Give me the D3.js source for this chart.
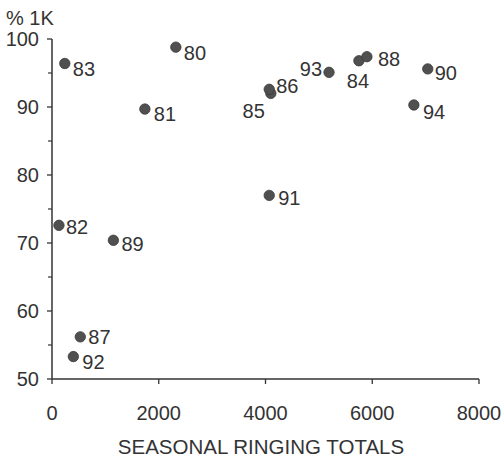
<!DOCTYPE html>
<html>
<head>
<meta charset="utf-8">
<script src="https://cdn.jsdelivr.net/npm/d3@7"></script>
<style>
  html, body { margin: 0; padding: 0; background: #fff; }
  svg { display: block; font-family: "Liberation Sans", Arial, sans-serif; }
</style>
</head>
<body>
<svg id="chart" width="504" height="459"></svg>
<script>
// Season (year) labels, ringing totals and % first-year birds
const seasons = ["80", "81", "82", "83", "84", "85", "86", "87", "88", "89", "90", "91", "92", "93", "94"];
const ringingTotals = [2320, 1740, 130, 240, 5750, 4100, 4070, 530, 5900, 1150, 7040, 4070, 400, 5190, 6780];
const percent1K = [98.8, 89.7, 72.6, 96.4, 96.8, 92.0, 92.6, 56.2, 97.4, 70.4, 95.6, 77.0, 53.3, 95.1, 90.3];
const xTicks = [0, 2000, 4000, 6000, 8000];
const yTicks = [50, 60, 70, 80, 90, 100];
const yMinorTicks = [55, 65, 75, 85, 95];

const points = seasons.map((s, i) => ({ season: s, x: ringingTotals[i], y: percent1K[i] }));

// Label placement relative to each dot
const labelPlacement = {
  "80": { dx: 8, dy: 13, anchor: "start" },
  "81": { dx: 9, dy: 12, anchor: "start" },
  "82": { dx: 7, dy: 9, anchor: "start" },
  "83": { dx: 8, dy: 13, anchor: "start" },
  "84": { dx: -1, dy: 27, anchor: "middle" },
  "85": { dx: -6, dy: 25, anchor: "end" },
  "86": { dx: 7, dy: 4, anchor: "start" },
  "87": { dx: 8, dy: 7, anchor: "start" },
  "88": { dx: 11, dy: 9, anchor: "start" },
  "89": { dx: 8, dy: 11, anchor: "start" },
  "90": { dx: 7, dy: 11, anchor: "start" },
  "91": { dx: 9, dy: 10, anchor: "start" },
  "92": { dx: 9, dy: 12, anchor: "start" },
  "93": { dx: -7, dy: 4, anchor: "end" },
  "94": { dx: 9, dy: 14, anchor: "start" }
};

const svg = d3.select("#chart");
const ink = "#333";
const dotFill = "#505050";
const fontSize = 20;

const x = d3.scaleLinear().domain([0, 8000]).range([52, 479]);
const y = d3.scaleLinear().domain([50, 100]).range([379, 39]);

// Y axis with major and minor ticks
const yAxis = svg.append("g").attr("transform", `translate(${x(0)},0)`);
yAxis.append("line")
  .attr("x1", 0).attr("x2", 0).attr("y1", y(100)).attr("y2", y(50))
  .attr("stroke", ink).attr("stroke-width", 1.5);
yAxis.selectAll(".major").data(yTicks).join("line")
  .attr("x1", -5).attr("x2", 0)
  .attr("y1", d => y(d)).attr("y2", d => y(d))
  .attr("stroke", ink).attr("stroke-width", 1.3);
yAxis.selectAll(".minor").data(yMinorTicks).join("line")
  .attr("x1", -4).attr("x2", 0)
  .attr("y1", d => y(d)).attr("y2", d => y(d))
  .attr("stroke", ink).attr("stroke-width", 1.2);
yAxis.selectAll("text").data(yTicks).join("text")
  .attr("x", -13).attr("y", d => y(d))
  .attr("dy", "0.36em")
  .attr("text-anchor", "end")
  .attr("font-size", fontSize)
  .attr("fill", ink)
  .text(d => d);

// X axis
const xAxis = svg.append("g").attr("transform", `translate(0,${y(50)})`);
xAxis.append("line")
  .attr("x1", x(0)).attr("x2", x(8000)).attr("y1", 0).attr("y2", 0)
  .attr("stroke", ink).attr("stroke-width", 1.5);
xAxis.selectAll(".tick").data(xTicks).join("line")
  .attr("x1", d => x(d)).attr("x2", d => x(d))
  .attr("y1", 0).attr("y2", 5)
  .attr("stroke", ink).attr("stroke-width", 1.3);
xAxis.selectAll("text").data(xTicks).join("text")
  .attr("x", d => x(d)).attr("y", 41)
  .attr("text-anchor", "middle")
  .attr("font-size", fontSize)
  .attr("fill", ink)
  .text(d => d);

// Axis titles
svg.append("text")
  .attr("x", 261).attr("y", 454)
  .attr("text-anchor", "middle")
  .attr("font-size", 20.5)
  .attr("fill", ink)
  .text("SEASONAL RINGING TOTALS");
svg.append("text")
  .attr("x", 6).attr("y", 25)
  .attr("font-size", fontSize)
  .attr("fill", ink)
  .text("% 1K");

// Dots
svg.append("g").selectAll("circle").data(points).join("circle")
  .attr("cx", d => x(d.x)).attr("cy", d => y(d.y))
  .attr("r", 5.2)
  .attr("fill", dotFill)
  .attr("stroke", "#3a3a3a")
  .attr("stroke-width", 0.8);

// Season labels
svg.append("g").selectAll("text").data(points).join("text")
  .attr("x", d => x(d.x) + labelPlacement[d.season].dx)
  .attr("y", d => y(d.y) + labelPlacement[d.season].dy)
  .attr("text-anchor", d => labelPlacement[d.season].anchor)
  .attr("font-size", fontSize)
  .attr("fill", ink)
  .text(d => d.season);
</script>
</body>
</html>
